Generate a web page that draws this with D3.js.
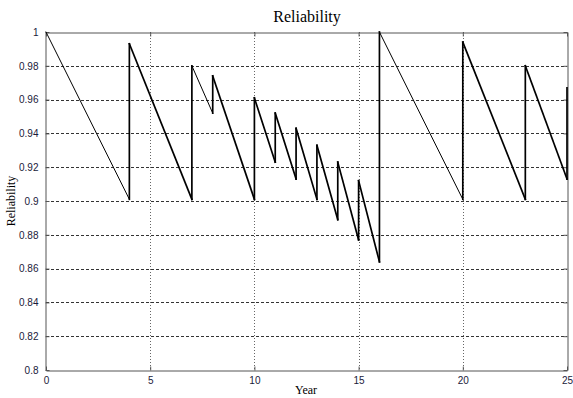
<!DOCTYPE html>
<html>
<head>
<meta charset="utf-8">
<script src="https://cdn.jsdelivr.net/npm/d3@7"></script>
<style>
  html, body { margin: 0; padding: 0; background: #fff; }
  svg { display: block; }
</style>
</head>
<body>
<svg id="chart" width="573" height="398"></svg>
<script>
// ---- data ----
const years  = [0, 4, 4, 7, 7, 8, 8, 10, 10, 11, 11, 12, 12, 13, 13, 14, 14, 15, 15, 16, 16, 20, 20, 23, 23, 25, 25];
const values = [1.000, 0.901, 0.993, 0.901, 0.980, 0.952, 0.974, 0.901, 0.961, 0.923, 0.952, 0.913, 0.943, 0.901,
                0.933, 0.889, 0.923, 0.877, 0.912, 0.864, 1.000, 0.901, 0.994, 0.901, 0.980, 0.913, 0.967];
const xTicks = [0, 5, 10, 15, 20, 25];
const yTicks = [0.8, 0.82, 0.84, 0.86, 0.88, 0.9, 0.92, 0.94, 0.96, 0.98, 1];
const yTickLabels = ["0.8", "0.82", "0.84", "0.86", "0.88", "0.9", "0.92", "0.94", "0.96", "0.98", "1"];
const titleText = "Reliability";
const xLabel = "Year";
const yLabel = "Reliability";
// segments drawn thin (index of starting point)
const thinSegments = [0, 4, 20];

// ---- layout ----
const svg = d3.select("#chart");
const pL = 46, pR = 567, pT = 32, pB = 370;
const x = d3.scaleLinear().domain([0, 25]).range([pL, pR]);
const y = d3.scaleLinear().domain([0.8, 1]).range([pB, pT]);

// grid
const g = svg.append("g");
g.selectAll("line.hgrid").data(yTicks.slice(1, -1)).join("line")
  .attr("x1", pL).attr("x2", pR)
  .attr("y1", d => Math.round(y(d)) + 0.5).attr("y2", d => Math.round(y(d)) + 0.5)
  .attr("stroke", "#333").attr("stroke-width", 1).attr("stroke-dasharray", "3,2");
g.selectAll("line.vgrid").data(xTicks.slice(1, -1)).join("line")
  .attr("y1", pT).attr("y2", pB)
  .attr("x1", d => Math.round(x(d)) + 0.5).attr("x2", d => Math.round(x(d)) + 0.5)
  .attr("stroke", "#666").attr("stroke-width", 1).attr("stroke-dasharray", "1,2");

// axes (ticks inside)
const fontTick = "'Liberation Sans', Arial, sans-serif";
const xAxis = d3.axisBottom(x).tickValues(xTicks).tickSizeInner(-4).tickSizeOuter(0).tickPadding(6).tickFormat(d3.format("d"));
const yAxis = d3.axisLeft(y).tickValues(yTicks).tickSizeInner(-4).tickSizeOuter(0).tickPadding(7)
  .tickFormat((d, i) => yTickLabels[i]);
const xTop = d3.axisTop(x).tickValues(xTicks).tickSizeInner(-4).tickSizeOuter(0).tickFormat("");
const yRight = d3.axisRight(y).tickValues(yTicks).tickSizeInner(-4).tickSizeOuter(0).tickFormat("");

function styleAxis(sel) {
  sel.select(".domain").attr("stroke", "#555").attr("stroke-width", 1);
  sel.selectAll(".tick line").attr("stroke", "#555");
  sel.selectAll("text").attr("fill", "#1a1a3a").style("font-family", fontTick).style("font-size", "10px");
}
svg.append("g").attr("transform", `translate(0,${pB + 0.5})`).call(xAxis).call(styleAxis);
svg.append("g").attr("transform", `translate(${pL - 0.5},0)`).call(yAxis).call(styleAxis);
svg.append("g").attr("transform", `translate(0,${pT + 0.5})`).call(xTop).call(styleAxis);
svg.append("g").attr("transform", `translate(${pR + 0.5},0)`).call(yRight).call(styleAxis);

// line segments
const pts = years.map((t, i) => [t, values[i]]);
const segs = d3.pairs(pts).map((p, i) => ({ p, i }));
svg.append("g").selectAll("line").data(segs).join("line")
  .attr("x1", d => x(d.p[0][0])).attr("y1", d => y(d.p[0][1]))
  .attr("x2", d => x(d.p[1][0])).attr("y2", d => y(d.p[1][1]))
  .attr("stroke", "#000")
  .attr("stroke-width", d => thinSegments.includes(d.i) ? 1 : 1.7)
  .attr("stroke-linecap", "square");

// labels
const serif = "'Liberation Serif', 'Times New Roman', serif";
svg.append("text").attr("x", 307).attr("y", 22).attr("text-anchor", "middle")
  .style("font-family", serif).style("font-size", "16px").attr("fill", "#000").text(titleText);
svg.append("text").attr("x", 306).attr("y", 394).attr("text-anchor", "middle")
  .style("font-family", serif).style("font-size", "12px").attr("fill", "#000").text(xLabel);
svg.append("text").attr("transform", `translate(15,${(pT + pB) / 2}) rotate(-90)`).attr("text-anchor", "middle")
  .style("font-family", serif).style("font-size", "12px").attr("fill", "#000").text(yLabel);
</script>
</body>
</html>
